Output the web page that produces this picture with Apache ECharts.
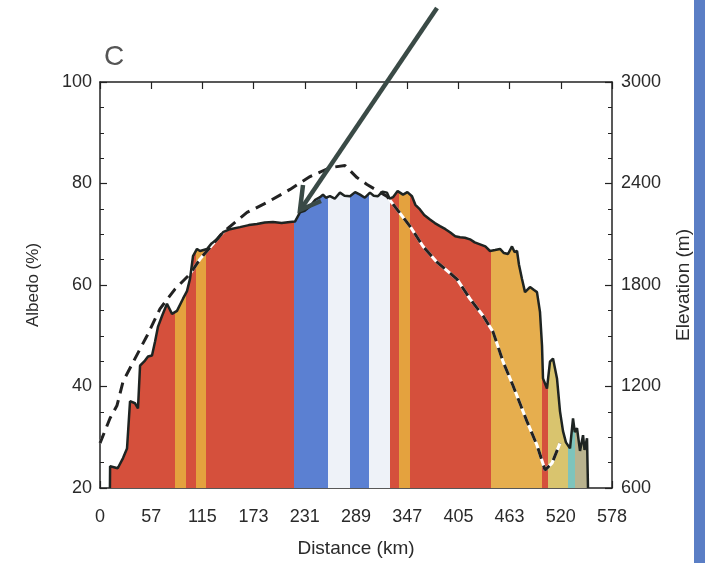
<!DOCTYPE html>
<html>
<head>
<meta charset="utf-8">
<script src="https://cdn.jsdelivr.net/npm/echarts@6/dist/echarts.min.js"></script>
<style>
html,body{margin:0;padding:0;background:#fff;}
#chart{width:705px;height:563px;}
</style>
</head>
<body>
<div id="chart"></div>
<script>
// tick labels of the distance axis (one every 57.8 km)
var xTickLabels = ['0','57','115','173','231','289','347','405','463','520','578'];

// albedo profile [km, %]
var albedoPoints = [
  [11.2,20],[11.4,24.3],[20,23.9],[26,25.9],[30.5,27.8],[33.9,37.1],[39.5,36.7],[42.9,35.7],
  [45.2,44.1],[50.8,45.1],[54.2,45.9],[58.7,46.1],[62.1,48.8],[65.5,51.8],[70,53.9],[75.6,56.3],
  [81.3,54.3],[86.9,54.9],[93.7,57.3],[98.2,58.8],[101.6,61.2],[105,65.7],[109.5,67.1],[112.9,66.7],
  [120.8,67.1],[126,68.2],[132.1,69.0],[138.9,70.4],[146.8,71.0],[158,71.4],[168,71.8],[177.2,72.0],
  [186,72.3],[195.3,72.4],[205,72.2],[214.5,72.4],[220.1,72.5],[225.8,74.3],[231,74.6],[237.1,75.5],
  [243,76.8],[248.4,77.3],[251.7,77.8],[255,77.2],[259.6,77.5],[265,77.0],[270.9,78.2],[276,77.6],
  [282.2,77.5],[288,78.3],[293.5,77.8],[299,77.2],[304.8,78.2],[309,77.6],[313.8,77.5],[319,78.4],
  [324,78.2],[327,77.0],[330.8,77.3],[336,78.5],[342.1,77.8],[347,78.3],[352.2,77.5],[356,75.8],
  [361.2,74.9],[366,73.8],[372.5,72.9],[378,72.2],[383.8,71.6],[390,71.0],[395.1,70.4],[401,69.6],
  [406.4,69.4],[412,69.3],[417.7,69.0],[423,68.4],[429,68.0],[435,67.6],[440.3,66.7],[446,66.9],
  [451.6,67.1],[456,66.3],[460.6,66.1],[465.1,67.6],[468,66.5],[470.8,66.7],[473,64.0],[476.4,61.2],
  [479.8,58.6],[485.4,59.6],[490,59.0],[493.3,58.6],[496.7,54.7],[499,48.0],[500.1,41.6],[504.6,39.6],
  [508,44.9],[511.4,45.5],[515.9,41.6],[519.3,35.1],[522.7,31.2],[526,29.0],[530.6,27.8],[534,33.7],
  [536,31.0],[538.5,31.8],[541.9,27.3],[545.3,30.4],[547,27.5],[549.8,29.8],[550.9,20]
];

// elevation profile [km, m]
var elevationPoints = [
  [0,865],[11.3,1012],[19.2,1088],[26,1229],[39.5,1365],[53.1,1500],[67.7,1659],[84.7,1776],
  [101.6,1865],[112.9,1953],[138.9,2112],[166,2229],[188.5,2288],[214.5,2365],[237.1,2441],
  [259.6,2494],[276.6,2506],[290.1,2435],[301.4,2394],[324,2324],[335.3,2247],[350,2147],
  [364.6,2029],[380.4,1935],[403,1835],[417.7,1718],[432.4,1618],[443.7,1523],[455,1347],
  [466.2,1206],[482,994],[493.3,853],[502.4,706],[510.3,747],[519.3,865]
];

// surface class bands along the profile
var bandFrom  = [0,   85,  97,  108, 120, 219, 257, 282, 304, 327, 338, 350, 441, 499, 506, 528, 536];
var bandTo    = [85,  97,  108, 120, 219, 257, 282, 304, 327, 338, 350, 441, 499, 506, 528, 536, 600];
var bandColor = ['#d5503c','#e4a23e','#d5503c','#e4a23e','#d5503c','#5b80d2','#eef2f8','#5b80d2',
                 '#eef2f8','#d5503c','#e4a23e','#d5503c','#e6ae4e','#d5503c','#d9c46e','#7ec4bc','#b9b38e'];

var pieces = bandFrom.map(function (f, i) {
  return { gte: f, lt: bandTo[i], color: bandColor[i] };
});

var txt = '#2a2a2a';
var font = "'Liberation Sans', Arial, Helvetica, sans-serif";
var axisCommon = {
  axisLine: { show: true, onZero: false, lineStyle: { color: '#222', width: 1.5 } },
  axisTick: { show: true, inside: true, length: 7, lineStyle: { color: '#222', width: 1.2 } },
  splitLine: { show: false },
  nameTextStyle: { color: txt, fontSize: 19, fontFamily: font }
};

var myChart = echarts.init(document.getElementById('chart'));
myChart.setOption({
  animation: false,
  backgroundColor: '#fff',
  grid: { left: 100, right: 93, top: 82, bottom: 73, containLabel: false },
  xAxis: [
    Object.assign({}, axisCommon, {
      type: 'value', min: 0, max: 578, interval: 57.8, position: 'bottom',
      axisLabel: {
        color: txt, fontSize: 18, fontFamily: font, margin: 20,
        formatter: function (v) { return xTickLabels[Math.round(v / 57.8)]; }
      },
      name: 'Distance (km)', nameLocation: 'middle', nameGap: 51
    }),
    Object.assign({}, axisCommon, {
      type: 'value', min: 0, max: 578, interval: 57.8, position: 'top',
      axisLabel: { show: false }
    })
  ],
  yAxis: [
    Object.assign({}, axisCommon, {
      type: 'value', min: 20, max: 100, interval: 20, position: 'left',
      minorTick: { show: true, splitNumber: 4, length: 4, lineStyle: { color: '#222' } },
      axisLabel: { color: txt, fontSize: 18, fontFamily: font, margin: 8 },
      name: 'Albedo (%)', nameLocation: 'middle', nameGap: 58, nameRotate: 90,
      nameTextStyle: { color: txt, fontSize: 17, fontFamily: font }
    }),
    Object.assign({}, axisCommon, {
      type: 'value', min: 600, max: 3000, interval: 600, position: 'right',
      minorTick: { show: true, splitNumber: 4, length: 4, lineStyle: { color: '#222' } },
      axisLabel: { color: txt, fontSize: 18, fontFamily: font, margin: 9,
        formatter: function (v) { return String(v); } },
      name: 'Elevation (m)', nameLocation: 'middle', nameGap: 62, nameRotate: 90
    })
  ],
  visualMap: {
    show: false, type: 'piecewise', dimension: 0, seriesIndex: 0, pieces: pieces
  },
  series: [
    {
      name: 'AlbedoFill', type: 'line', data: albedoPoints, showSymbol: false,
      lineStyle: { width: 0, opacity: 0 },
      areaStyle: { opacity: 1, origin: 'start' },
      z: 1
    },
    {
      name: 'ElevationBase', type: 'line', yAxisIndex: 1, data: elevationPoints, showSymbol: false,
      lineStyle: { color: '#fff', width: 3 }, z: 2
    },
    {
      name: 'Elevation', type: 'line', yAxisIndex: 1, data: elevationPoints, showSymbol: false,
      lineStyle: { color: '#222', width: 3, type: [11, 7] }, z: 3
    },
    {
      name: 'Albedo', type: 'line', data: albedoPoints, showSymbol: false,
      lineStyle: { color: '#1e2422', width: 2.5 }, z: 4
    }
  ],
  graphic: [
    { type: 'rect', left: 694, top: 0, shape: { width: 11, height: 563 }, style: { fill: '#5a7ec5' } },
    { type: 'text', left: 104, top: 43, style: { text: 'C', fontSize: 28, fontFamily: font, fill: '#555' } },
    { type: 'polyline', shape: { points: [[437, 8], [301, 209]] }, style: { stroke: '#3a4a46', lineWidth: 4.5 }, z: 100 },
    { type: 'polyline', shape: { points: [[303, 185], [300, 210], [321, 201]] }, style: { stroke: '#3a4a46', lineWidth: 4.5, fill: null }, z: 100 }
  ]
});

window.addEventListener('resize', function () { myChart.resize(); });
</script>
</body>
</html>
